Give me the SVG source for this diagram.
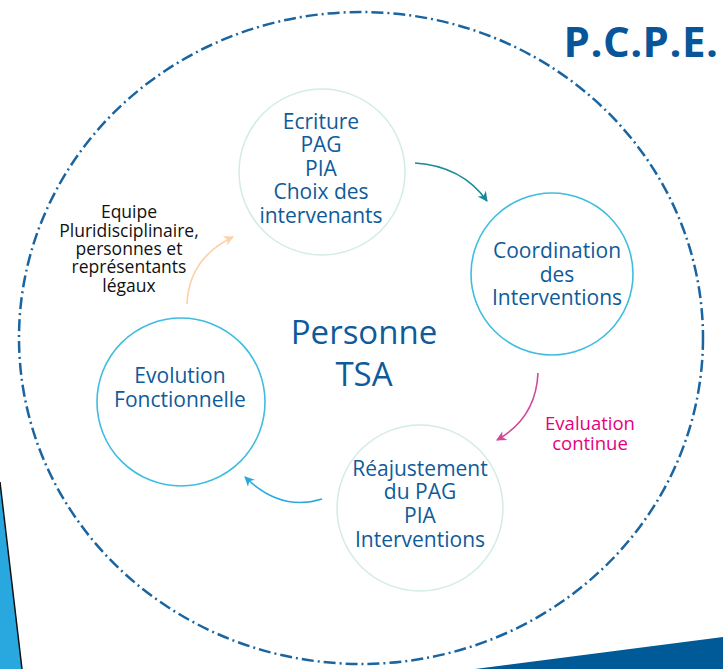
<svg xmlns="http://www.w3.org/2000/svg" width="723" height="669" viewBox="0 0 723 669">
<style>
.t{font-family:"Open Sans","Noto Sans",sans-serif;fill:#0f5b9a;text-anchor:middle}
.n{font-size:21px}
.mint{fill:none;stroke:#d3ece6;stroke-width:1.5}
.cyan{fill:none;stroke:#3fbde0;stroke-width:1.6}
.arr{fill:none;stroke-width:1.6}
</style>
<defs>
<marker id="mT" viewBox="0 0 10 10" refX="9" refY="5" markerWidth="11" markerHeight="10" orient="auto" markerUnits="userSpaceOnUse"><path d="M0,0 L10,5 L0,10 L3,5 Z" fill="#168a96"/></marker>
<marker id="mP" viewBox="0 0 10 10" refX="9" refY="5" markerWidth="11" markerHeight="10" orient="auto" markerUnits="userSpaceOnUse"><path d="M0,0 L10,5 L0,10 L3,5 Z" fill="#d2479a"/></marker>
<marker id="mB" viewBox="0 0 10 10" refX="9" refY="5" markerWidth="11" markerHeight="10" orient="auto" markerUnits="userSpaceOnUse"><path d="M0,0 L10,5 L0,10 L3,5 Z" fill="#29a8e0"/></marker>
<marker id="mO" viewBox="0 0 10 10" refX="9" refY="5" markerWidth="11" markerHeight="10" orient="auto" markerUnits="userSpaceOnUse"><path d="M0,0 L10,5 L0,10 L3,5 Z" fill="#fdd0a6"/></marker>
</defs>
<rect width="723" height="669" fill="#ffffff"/>
<polygon points="0,482 22,669 0,669" fill="#29a8e0"/>
<line x1="0" y1="482" x2="22" y2="669" stroke="#111" stroke-width="1.5"/>
<polygon points="475,669 723,637 723,669" fill="#005a98"/>
<ellipse cx="361" cy="338" rx="342" ry="326" fill="none" stroke="#1a64a0" stroke-width="2.5" stroke-dasharray="12 4 2 4"/>
<text x="641" y="57" font-family="'Open Sans','Noto Sans',sans-serif" font-weight="bold" font-size="42" fill="#07569a" text-anchor="middle" letter-spacing="0.5">P.C.P.E.</text>
<g id="center"><text class="t" x="364" y="344" font-size="33">Personne</text><text class="t" x="364" y="386" font-size="33">TSA</text></g>
<g id="ecriture"><circle class="mint" cx="322" cy="172" r="83"/>
<text class="t n" x="321" y="129">Ecriture</text><text class="t n" x="321" y="152">PAG</text><text class="t n" x="321" y="176">PIA</text><text class="t n" x="321" y="199">Choix des</text><text class="t n" x="321" y="223">intervenants</text></g>
<g id="coordination"><circle class="cyan" cx="552" cy="274" r="81"/>
<text class="t n" x="557" y="258">Coordination</text><text class="t n" x="557" y="282">des</text><text class="t n" x="557" y="305">Interventions</text></g>
<g id="reajustement"><circle class="mint" cx="420" cy="508" r="83"/>
<text class="t n" x="420" y="476">Réajustement</text><text class="t n" x="420" y="499">du PAG</text><text class="t n" x="420" y="523">PIA</text><text class="t n" x="420" y="547">Interventions</text></g>
<g id="evolution"><circle class="cyan" cx="181" cy="402" r="84"/>
<text class="t n" x="180" y="383">Evolution</text><text class="t n" x="180" y="407">Fonctionnelle</text></g>
<g id="connectors">
<path class="arr" stroke="#168a96" d="M415,163 Q462,166 487,201" marker-end="url(#mT)"/>
<path class="arr" stroke="#d2479a" d="M538,373 Q536,418 497,440" marker-end="url(#mP)"/>
<path class="arr" stroke="#29a8e0" d="M322,499 Q281,512 245,477" marker-end="url(#mB)"/>
<path class="arr" stroke="#fdd0a6" d="M187,304 Q189,258 233,237" marker-end="url(#mO)"/>
</g>
<g id="labels" font-family="'Open Sans','Noto Sans',sans-serif" text-anchor="middle">
<g font-size="17.5" fill="#111">
<text x="129" y="218">Equipe</text><text x="129" y="237">Pluridisciplinaire,</text><text x="129" y="255">personnes et</text><text x="129" y="273">représentants</text><text x="129" y="292">légaux</text></g>
<g font-size="18.5" fill="#e6007e"><text x="590" y="430">Evaluation</text><text x="590" y="450">continue</text></g>
</g>
</svg>
